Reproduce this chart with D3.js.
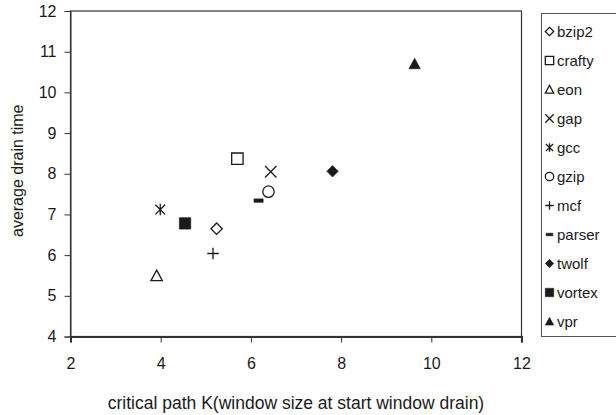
<!DOCTYPE html>
<html>
<head>
<meta charset="utf-8">
<script src="https://cdn.jsdelivr.net/npm/d3@7"></script>
<style>
  html, body { margin: 0; padding: 0; background: #fff; }
  svg { display: block; font-family: Arial, "Liberation Sans", sans-serif; }
</style>
</head>
<body>
<svg id="chart" width="616" height="415"></svg>
<script>
// Benchmarks and their measured values
const benchmarks = ["bzip2", "crafty", "eon", "gap", "gcc", "gzip", "mcf", "parser", "twolf", "vortex", "vpr"];
const criticalPathK = [5.24, 5.70, 3.91, 6.44, 3.99, 6.39, 5.16, 6.17, 7.81, 4.54, 9.63];
const avgDrainTime = [6.65, 8.37, 5.49, 8.05, 7.12, 7.56, 6.04, 7.34, 8.06, 6.78, 10.70];
const markerKinds = ["diamondOpen", "squareOpen", "triangleOpen", "times", "asterisk", "circleOpen", "plus", "dash", "diamond", "square", "triangle"];

const xTicks = [2, 4, 6, 8, 10, 12];
const yTicks = [4, 5, 6, 7, 8, 9, 10, 11, 12];
const xTitle = "critical path K(window size at start window drain)";
const yTitle = "average drain time";

const svg = d3.select("#chart");
const plot = { left: 70.5, right: 521.5, top: 11, bottom: 336.5 };
const ink = "#1a1a1a";

const x = d3.scaleLinear().domain([2, 12]).range([plot.left, plot.right]);
const y = d3.scaleLinear().domain([4, 12]).range([plot.bottom, plot.top]);

// Marker shapes, all drawn around (0,0)
function markerPath(kind, r) {
  const p = d3.path();
  switch (kind) {
    case "diamondOpen":
    case "diamond":
      p.moveTo(0, -r); p.lineTo(r, 0); p.lineTo(0, r); p.lineTo(-r, 0); p.closePath(); break;
    case "squareOpen":
    case "square":
      p.rect(-r, -r, 2 * r, 2 * r); break;
    case "triangleOpen":
    case "triangle":
      p.moveTo(0, -r); p.lineTo(r, r * 0.85); p.lineTo(-r, r * 0.85); p.closePath(); break;
    case "times":
      p.moveTo(-r, -r); p.lineTo(r, r); p.moveTo(r, -r); p.lineTo(-r, r); break;
    case "asterisk":
      p.moveTo(-r * 0.85, -r * 0.85); p.lineTo(r * 0.85, r * 0.85);
      p.moveTo(r * 0.85, -r * 0.85); p.lineTo(-r * 0.85, r * 0.85);
      p.moveTo(0, -r); p.lineTo(0, r); break;
    case "circleOpen":
      p.arc(0, 0, r, 0, 2 * Math.PI); break;
    case "plus":
      p.moveTo(-r, 0); p.lineTo(r, 0); p.moveTo(0, -r); p.lineTo(0, r); break;
    case "dash":
      p.rect(-r * 0.8, -r * 0.3, r * 1.6, r * 0.6); break;
  }
  return p.toString();
}
const filled = k => ["diamond", "square", "triangle", "dash"].includes(k);

function drawMarker(sel, kind, r) {
  sel.append("path")
    .attr("d", markerPath(kind, r))
    .attr("fill", filled(kind) ? ink : "none")
    .attr("stroke", ink)
    .attr("stroke-width", filled(kind) ? 0.6 : 1.3);
}

// Plot frame
svg.append("rect")
  .attr("x", plot.left).attr("y", plot.top)
  .attr("width", plot.right - plot.left).attr("height", plot.bottom - plot.top)
  .attr("fill", "none").attr("stroke", "#333").attr("stroke-width", 1.2);

// Axes
const xAxis = svg.append("g")
  .attr("transform", `translate(0,${plot.bottom})`)
  .call(d3.axisBottom(x).tickValues(xTicks).tickSize(6).tickPadding(15).tickFormat(d3.format("d")));
const yAxis = svg.append("g")
  .attr("transform", `translate(${plot.left},0)`)
  .call(d3.axisLeft(y).tickValues(yTicks).tickSize(6).tickPadding(8).tickFormat(d3.format("d")));

[xAxis, yAxis].forEach(g => {
  g.selectAll("text").attr("fill", ink).style("font-size", "16px").style("font-family", "Arial, 'Liberation Sans', sans-serif");
  g.selectAll("line").attr("stroke", "#333");
  g.select(".domain").attr("stroke", "#333");
});
xAxis.select(".domain").attr("stroke-width", 2);

// Axis titles
svg.append("text")
  .attr("x", (plot.left + plot.right) / 2).attr("y", 409)
  .attr("text-anchor", "middle").attr("fill", ink).style("font-size", "17.5px")
  .text(xTitle);
svg.append("text")
  .attr("transform", `translate(23,${(plot.top + plot.bottom) / 2 - 3}) rotate(-90)`)
  .attr("text-anchor", "middle").attr("fill", ink).style("font-size", "16px")
  .text(yTitle);

// Points
benchmarks.forEach((name, i) => {
  const g = svg.append("g").attr("transform", `translate(${x(criticalPathK[i])},${y(avgDrainTime[i])})`);
  drawMarker(g, markerKinds[i], 5.7);
});

// Legend
const legend = svg.append("g");
legend.append("rect")
  .attr("x", 541.5).attr("y", 13.5).attr("width", 90).attr("height", 323)
  .attr("fill", "#fff").attr("stroke", "#555").attr("stroke-width", 1);
benchmarks.forEach((name, i) => {
  const cy = 31.5 + i * 29;
  const g = legend.append("g").attr("transform", `translate(549.5,${cy})`);
  drawMarker(g, markerKinds[i], 4.2);
  legend.append("text")
    .attr("x", 557).attr("y", cy + 5.5)
    .attr("fill", ink).style("font-size", "15px")
    .text(name);
});
</script>
</body>
</html>
